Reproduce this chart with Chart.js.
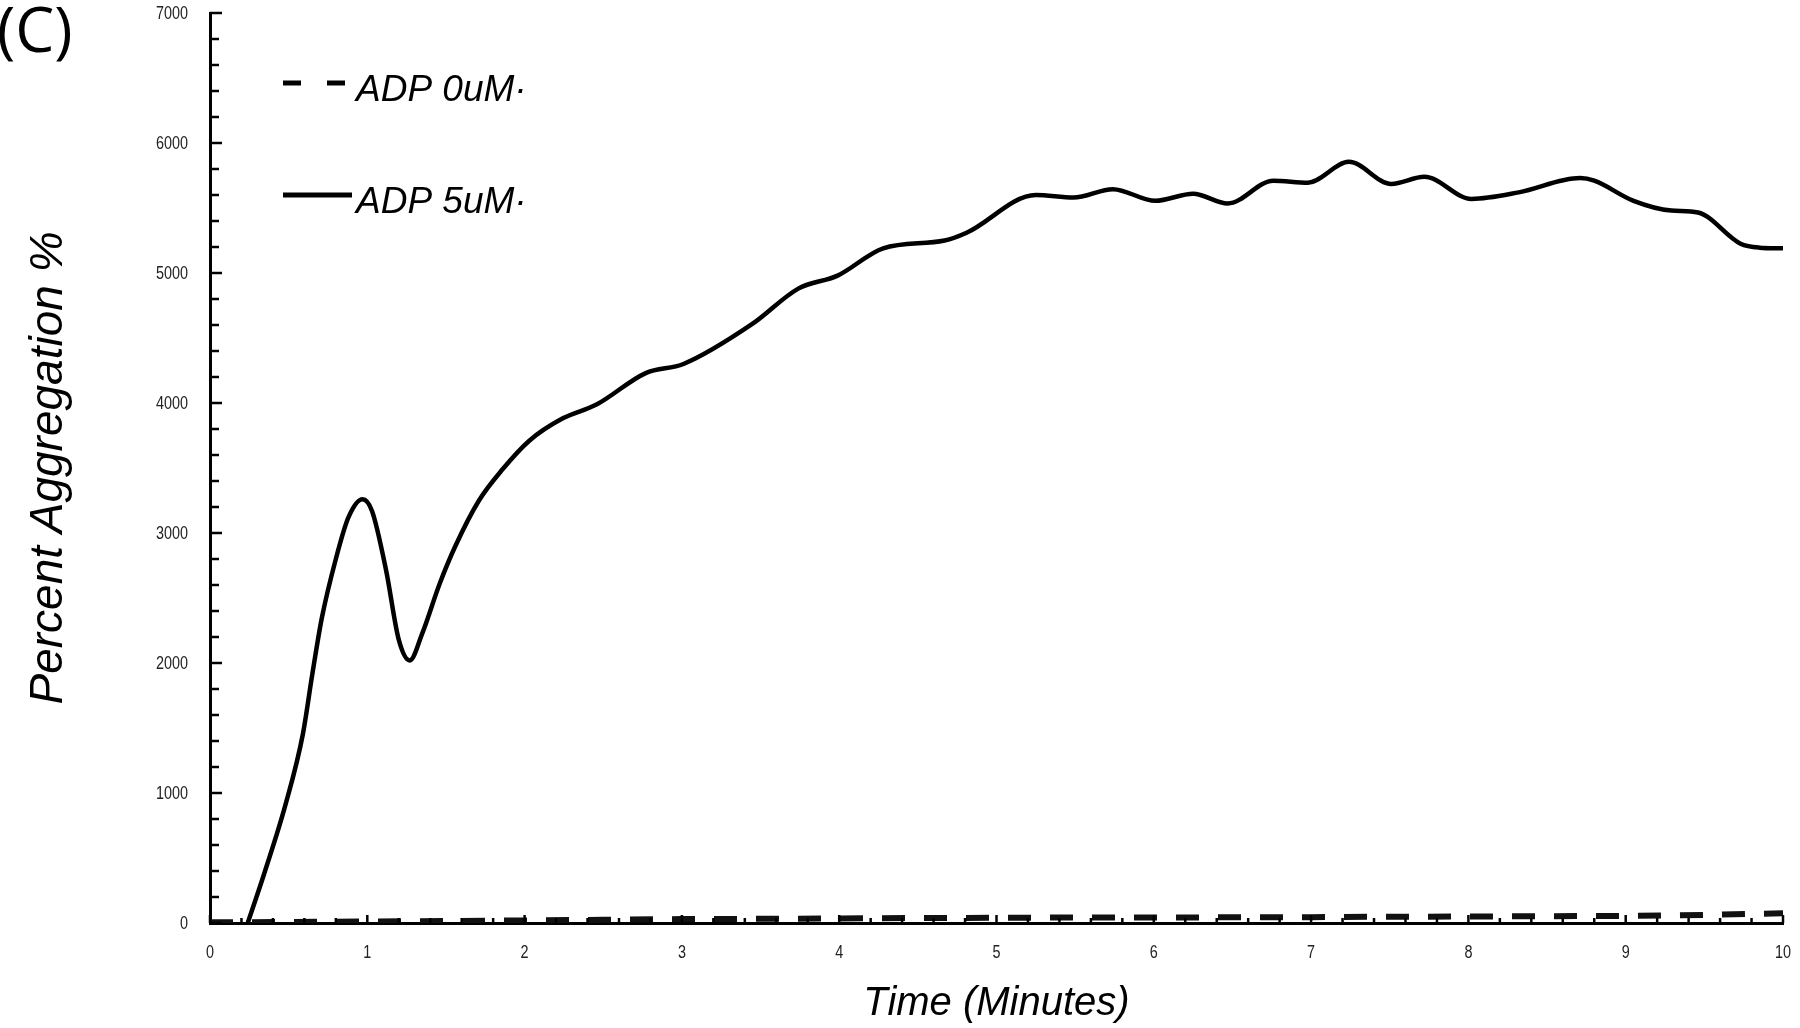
<!DOCTYPE html>
<html>
<head>
<meta charset="utf-8">
<script src="https://cdn.jsdelivr.net/npm/chart.js@4/dist/chart.umd.min.js"></script>
<style>
  html, body { margin: 0; padding: 0; background: #fff; overflow: hidden; }
  #wrap { position: relative; width: 1800px; height: 1028px; }
  canvas { display: block; }
</style>
</head>
<body>
<div id="wrap"><canvas id="aggChart"></canvas></div>
<script>
// ADP 5uM trace (minutes, percent aggregation)
const time5 = [0.24, 0.35, 0.48, 0.59, 0.65, 0.71, 0.80, 0.88, 0.97, 1.03, 1.12, 1.20, 1.27, 1.35, 1.46, 1.56,
  1.71, 1.86, 2.03, 2.24, 2.46, 2.77, 3.01, 3.45, 3.74, 3.99, 4.28, 4.67, 4.81, 5.25, 5.49, 5.74, 6.01,
  6.25, 6.47, 6.76, 6.98, 7.24, 7.51, 7.72, 8.02, 8.32, 8.71, 8.80, 9.05, 9.29, 9.46, 9.73, 9.85, 10.0];
const agg5 = [0, 400, 910, 1450, 1910, 2340, 2800, 3120, 3260, 3170, 2710, 2180, 2020, 2230, 2610, 2900,
  3250, 3490, 3710, 3880, 3990, 4230, 4300, 4610, 4880, 4980, 5190, 5250, 5310, 5600, 5580, 5645, 5555,
  5610, 5535, 5710, 5695, 5855, 5685, 5740, 5570, 5620, 5730, 5710, 5555, 5480, 5465, 5225, 5195, 5190];

// ADP 0uM trace
const time0 = [0, 0.5, 1, 1.5, 2, 2.5, 3, 3.5, 4, 4.5, 5, 5.5, 6, 6.5, 7, 7.5, 8, 8.5, 9, 9.5, 10];
const agg0 = [5, 8, 12, 15, 20, 25, 30, 32, 35, 38, 40, 42, 42, 44, 45, 48, 50, 52, 55, 62, 75];

const xTicks = [0, 1, 2, 3, 4, 5, 6, 7, 8, 9, 10];
const yTicks = [0, 1000, 2000, 3000, 4000, 5000, 6000, 7000];
const legendLabels = ['ADP 0uM\u00b7', 'ADP 5uM\u00b7'];
const panelLabel = '(C)';

const titleFont = { family: "'Liberation Sans', Arial, sans-serif", style: 'italic' };

// inward minor/major tick marks and narrow tick labels, placed from the scales
const tickMarks = {
  id: 'tickMarks',
  afterDraw(chart) {
    const { ctx, chartArea, scales: { x, y } } = chart;
    ctx.save();
    ctx.strokeStyle = '#000';
    ctx.lineWidth = 2.5;
    for (let v = 0; v <= 7000; v += 200) {
      const py = y.getPixelForValue(v);
      const len = v % 1000 === 0 ? 12 : 9;
      ctx.beginPath();
      ctx.moveTo(chartArea.left, py);
      ctx.lineTo(chartArea.left + len, py);
      ctx.stroke();
    }
    for (let i = 0; i <= 50; i++) {
      const px = x.getPixelForValue(i * 0.2);
      const len = i % 5 === 0 ? 8 : 5;
      ctx.beginPath();
      ctx.moveTo(px, chartArea.bottom);
      ctx.lineTo(px, chartArea.bottom - len);
      ctx.stroke();
    }

    // condensed tick labels
    const sx = 0.8;
    ctx.fillStyle = '#222';
    ctx.font = "18px 'Liberation Sans', Arial, sans-serif";
    ctx.textBaseline = 'middle';
    ctx.textAlign = 'right';
    yTicks.forEach(v => {
      const py = y.getPixelForValue(v);
      ctx.save();
      ctx.translate(chartArea.left - 22, py + 1);
      ctx.scale(sx, 1);
      ctx.fillText(String(v), 0, 0);
      ctx.restore();
    });
    ctx.textAlign = 'center';
    xTicks.forEach(v => {
      const px = x.getPixelForValue(v);
      ctx.save();
      ctx.translate(px, chartArea.bottom + 30);
      ctx.scale(sx, 1);
      ctx.fillText(String(v), 0, 0);
      ctx.restore();
    });
    ctx.restore();
  }
};

// legend inside the plot and the panel letter
const overlay = {
  id: 'overlay',
  afterDraw(chart) {
    const { ctx } = chart;
    ctx.save();
    ctx.fillStyle = '#000';
    ctx.strokeStyle = '#000';
    ctx.lineWidth = 5;
    // dashed sample
    ctx.setLineDash([18, 26]);
    ctx.beginPath();
    ctx.moveTo(283, 83);
    ctx.lineTo(350, 83);
    ctx.stroke();
    // solid sample
    ctx.setLineDash([]);
    ctx.beginPath();
    ctx.moveTo(283, 195);
    ctx.lineTo(352, 195);
    ctx.stroke();
    ctx.font = "italic 37px 'Liberation Sans', Arial, sans-serif";
    ctx.textBaseline = 'alphabetic';
    ctx.fillText(legendLabels[0], 356, 101);
    ctx.fillText(legendLabels[1], 356, 213);
    ctx.font = "62px 'Open Sans', sans-serif";
    ctx.fillText(panelLabel, -3, 52);
    ctx.restore();
  }
};

new Chart(document.getElementById('aggChart'), {
  type: 'line',
  data: {
    datasets: [
      {
        label: legendLabels[0],
        data: time0.map((t, i) => ({ x: t, y: agg0[i] })),
        borderColor: '#111',
        borderWidth: 6,
        borderDash: [23, 19],
        pointRadius: 0,
        tension: 0
      },
      {
        label: legendLabels[1],
        data: time5.map((t, i) => ({ x: t, y: agg5[i] })),
        borderColor: '#000',
        borderWidth: 4.5,
        pointRadius: 0,
        cubicInterpolationMode: 'monotone'
      }
    ]
  },
  options: {
    responsive: true,
    maintainAspectRatio: false,
    animation: false,
    layout: { padding: { top: 13, right: 17, left: 0, bottom: 0 } },
    plugins: { legend: { display: false }, tooltip: { enabled: false } },
    scales: {
      x: {
        type: 'linear',
        min: 0,
        max: 10,
        afterFit(scale) {
          scale.height = 105;
          scale.paddingLeft = 0;
          scale.paddingRight = 0;
        },
        afterBuildTicks(scale) { scale.ticks = xTicks.map(v => ({ value: v })); },
        ticks: { display: false },
        grid: { display: true, drawOnChartArea: false, drawTicks: false },
        border: { display: true, color: '#000', width: 3 },
        title: { display: true, text: 'Time (Minutes)', color: '#000',
          font: { ...titleFont, size: 40 }, padding: { top: 0, bottom: 0 } }
      },
      y: {
        min: 0,
        max: 7000,
        afterFit(scale) {
          scale.width = 210;
          scale.paddingTop = 0;
          scale.paddingBottom = 0;
        },
        afterBuildTicks(scale) { scale.ticks = yTicks.map(v => ({ value: v })); },
        ticks: { display: false },
        grid: { display: true, drawOnChartArea: false, drawTicks: false },
        border: { display: true, color: '#000', width: 3 },
        title: { display: true, text: 'Percent Aggregation %', color: '#000',
          font: { ...titleFont, size: 46 }, padding: { top: 22, bottom: 0 } }
      }
    }
  },
  plugins: [tickMarks, overlay]
});
</script>
</body>
</html>
